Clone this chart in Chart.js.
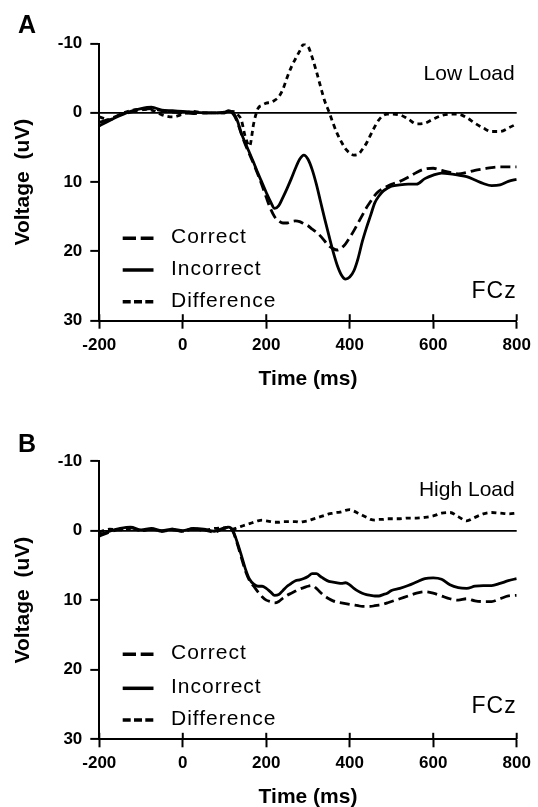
<!DOCTYPE html>
<html lang="en">
<head>
<meta charset="UTF-8" />
<title>FCz - Correct vs Incorrect, Low and High Load</title>
<script src="https://cdn.jsdelivr.net/npm/chart.js"></script>
<style>
  html, body { margin: 0; padding: 0; background: #fff; overflow: hidden; }
  canvas { position: absolute; left: 0; }
</style>
</head>
<body>
<canvas id="chartA" width="538" height="400" style="top:0"></canvas>
<canvas id="chartB" width="538" height="410" style="top:400px"></canvas>

<script>
// time axis (ms), shared by both panels
const times = [-200, -175, -150, -125, -100, -75, -50, -25, 0, 25, 50, 75, 100,
  110, 120, 130, 140, 150, 160, 170, 180, 190, 200, 210, 220, 230, 240, 250, 260, 270, 280, 290, 300,
  310, 320, 330, 340, 350, 360, 370, 380, 390, 400, 410, 420, 430, 440, 450, 460, 470, 480, 490, 500,
  520, 540, 560, 580, 600, 620, 640, 660, 680, 700, 720, 740, 760, 780, 800];
const timeTicks = [-200, 0, 200, 400, 600, 800];
const voltTicks = [-10, 0, 10, 20, 30];

// A - Low Load (uV, negative up)
const correctLow = [1.4, 0.9, 0.3, -0.1, -0.4, -0.6, -0.3, -0.1, 0.0, 0.1, 0.0, 0.0, 0.0,
  -0.2, 0.1, 1.2, 3.0, 4.6, 6.0, 7.4, 8.9, 10.5, 12.2, 13.8, 15.0, 15.6, 15.9, 15.9, 15.7, 15.6, 15.7, 16.0, 16.3,
  16.8, 17.2, 17.8, 18.5, 19.2, 19.6, 19.8, 19.5, 18.9, 18.0, 17.0, 15.9, 14.8, 13.7, 12.8, 11.9, 11.3, 10.9, 10.6, 10.3,
  9.9, 9.3, 8.6, 8.1, 8.0, 8.3, 8.6, 8.8, 8.6, 8.3, 8.1, 7.9, 7.8, 7.8, 7.8];
const incorrectLow = [1.9, 1.1, 0.4, -0.2, -0.6, -0.8, -0.4, -0.3, -0.2, -0.1, 0.0, 0.0, -0.1,
  -0.3, 0.0, 1.0, 2.9, 4.4, 5.8, 7.2, 8.7, 10.1, 11.5, 12.8, 13.8, 13.4, 12.2, 10.9, 9.5, 8.0, 6.7, 6.1, 6.7,
  8.2, 10.3, 12.8, 15.3, 17.7, 20.0, 22.0, 23.4, 24.0, 23.7, 22.8, 21.0, 18.6, 16.6, 14.8, 13.0, 12.0, 11.3, 10.9, 10.6,
  10.4, 10.3, 10.3, 9.5, 9.0, 8.7, 8.8, 9.0, 9.2, 9.7, 10.2, 10.5, 10.4, 9.9, 9.6];
const differenceLow = [0.6, 1.0, 0.2, -0.3, -0.5, -0.4, 0.3, 0.6, 0.2, -0.2, 0.0, 0.0, 0.0,
  -0.1, -0.2, 0.2, 1.0, 3.5, 4.8, 1.5, -0.6, -1.1, -1.4, -1.5, -1.8, -2.3, -3.4, -5.1, -6.6, -7.8, -8.9, -9.9, -9.6,
  -8.0, -6.0, -3.8, -1.7, -0.2, 1.5, 3.0, 4.2, 5.2, 5.8, 6.1, 6.0, 5.3, 4.4, 3.2, 2.0, 1.0, 0.4, 0.2, 0.2,
  0.3, 0.9, 1.6, 1.5, 0.9, 0.4, 0.2, 0.2, 0.7, 1.5, 2.2, 2.7, 2.7, 2.2, 1.6];

// B - High Load
const correctHigh = [0.8, 0.2, -0.2, -0.4, 0.0, -0.2, 0.1, -0.1, 0.1, -0.2, -0.1, 0.2, -0.3,
  -0.4, 0.1, 1.8, 3.8, 5.8, 7.2, 8.0, 8.8, 9.5, 10.0, 10.2, 10.4, 10.2, 9.7, 9.3, 9.0, 8.7, 8.4, 8.2, 8.0,
  7.9, 8.3, 8.9, 9.4, 9.8, 10.1, 10.3, 10.4, 10.5, 10.6, 10.7, 10.8, 10.9, 10.9, 10.9, 10.8, 10.7, 10.6, 10.4, 10.2,
  9.8, 9.4, 9.0, 8.8, 9.0, 9.4, 9.8, 10.0, 9.8, 10.1, 10.2, 10.2, 9.8, 9.4, 9.3];
const incorrectHigh = [0.6, 0.1, -0.3, -0.5, -0.1, -0.3, 0.0, -0.2, 0.0, -0.3, -0.2, 0.1, -0.4,
  -0.5, 0.0, 1.6, 3.5, 5.5, 7.0, 7.7, 8.0, 8.0, 8.3, 8.8, 9.3, 9.2, 8.6, 8.0, 7.6, 7.2, 7.1, 6.9, 6.6,
  6.2, 6.2, 6.6, 7.0, 7.3, 7.4, 7.5, 7.6, 7.5, 7.8, 8.3, 8.7, 9.0, 9.2, 9.3, 9.4, 9.4, 9.2, 9.0, 8.6,
  8.3, 7.9, 7.4, 6.9, 6.8, 7.0, 7.8, 8.2, 8.3, 8.0, 7.9, 7.9, 7.6, 7.2, 6.9];
const differenceHigh = [0.2, -0.2, -0.1, -0.3, 0.0, -0.2, 0.1, -0.2, 0.1, -0.3, 0.0, -0.3, -0.4,
  -0.5, -0.2, -0.4, -0.6, -0.8, -1.0, -1.2, -1.4, -1.5, -1.4, -1.3, -1.2, -1.2, -1.3, -1.3, -1.3, -1.3, -1.2, -1.3, -1.4,
  -1.6, -1.8, -2.0, -2.2, -2.4, -2.5, -2.6, -2.7, -2.9, -3.0, -2.8, -2.5, -2.2, -1.9, -1.6, -1.5, -1.6, -1.6, -1.7, -1.7,
  -1.7, -1.8, -1.8, -1.9, -2.1, -2.5, -2.6, -2.0, -1.4, -1.9, -2.4, -2.6, -2.5, -2.4, -2.5];

const FONT = '"Liberation Sans", Arial, Helvetica, sans-serif';
const pts = vals => vals.map((v, i) => ({ x: times[i], y: v }));

// in-plot legend, labels and the inner half of the x ticks
const erpNotes = {
  id: 'erpNotes',
  afterDraw(chart, args, o) {
    const { ctx, chartArea: a } = chart;
    const xs = chart.scales.x;
    ctx.save();
    ctx.strokeStyle = '#000';
    ctx.fillStyle = '#000';
    ctx.lineWidth = 2;
    xs.ticks.forEach((t, i) => {
      const px = xs.getPixelForTick(i);
      ctx.beginPath();
      ctx.moveTo(px, a.bottom);
      ctx.lineTo(px, a.bottom - 6.5);
      ctx.stroke();
    });

    ctx.textBaseline = 'alphabetic';
    ctx.textAlign = 'left';
    ctx.font = 'bold 25px ' + FONT;
    ctx.fillText(o.letter, 18, o.letterY);

    ctx.textAlign = 'right';
    ctx.font = '21px ' + FONT;
    ctx.fillText(o.condition, a.right - 2, a.top + o.condDy);
    ctx.letterSpacing = '1px';
    ctx.font = '23px ' + FONT;
    ctx.fillText('FCz', a.right, a.bottom - o.siteDy);

    ctx.textAlign = 'left';
    ctx.font = '21px ' + FONT;
    chart.data.datasets.forEach((ds, i) => {
      const base = a.bottom - o.legendDy[i];
      ctx.lineWidth = 3.5;
      ctx.setLineDash(o.sampleDash[i]);
      ctx.beginPath();
      ctx.moveTo(122.7, base - 5);
      ctx.lineTo(153.5, base - 5);
      ctx.stroke();
      ctx.setLineDash([]);
      ctx.fillText(ds.label, 171, base);
    });
    ctx.restore();
  }
};

function makeChart(id, series, p) {
  const tickFont = { family: FONT, size: 17, weight: 'bold' };
  const titleFont = { family: FONT, size: 21, weight: 'bold' };
  return new Chart(document.getElementById(id), {
    type: 'line',
    data: {
      datasets: [
        { label: 'Correct', data: pts(series[0]), borderColor: '#000', borderDash: [10, 5] },
        { label: 'Incorrect', data: pts(series[1]), borderColor: '#000' },
        { label: 'Difference', data: pts(series[2]), borderColor: '#000', borderDash: [5, 4] }
      ]
    },
    options: {
      responsive: false,
      animation: false,
      layout: { padding: { top: p.top, right: 21.3, left: 0, bottom: 0 } },
      elements: {
        point: { radius: 0 },
        line: { borderWidth: 2.8, cubicInterpolationMode: 'monotone', fill: false }
      },
      plugins: {
        legend: { display: false },
        tooltip: { enabled: false },
        colors: { enabled: false },
        erpNotes: p.notes
      },
      scales: {
        x: {
          type: 'linear', min: -200, max: 800,
          afterBuildTicks: s => { s.ticks = timeTicks.map(v => ({ value: v })); },
          afterFit: s => { s.height = p.xHeight; },
          ticks: { color: '#000', font: tickFont, padding: 6, maxRotation: 0, autoSkip: false },
          grid: { drawOnChartArea: false, tickLength: 8, tickColor: '#000', tickWidth: 2 },
          border: { color: '#000', width: 2 },
          title: { display: true, text: 'Time (ms)', color: '#000', font: titleFont, padding: { top: 0, bottom: p.xTitlePad } }
        },
        y: {
          type: 'linear', min: -10, max: 30, reverse: true,
          afterBuildTicks: s => { s.ticks = voltTicks.map(v => ({ value: v })); },
          afterFit: s => { s.width = 99.3; },
          ticks: { color: '#000', font: tickFont, padding: 8 },
          grid: {
            color: c => (c.tick && c.tick.value === 0 ? '#000' : 'rgba(0,0,0,0)'),
            lineWidth: 1.8, tickLength: 9, tickColor: '#000', tickWidth: 2
          },
          border: { color: '#000', width: 2 },
          title: { display: true, text: 'Voltage  (uV)', color: '#000', font: titleFont, padding: { top: 11, bottom: 0 } }
        }
      }
    },
    plugins: [erpNotes]
  });
}

const sampleDash = [[13.3, 4.7], [], [8, 3.3]];

makeChart('chartA', [correctLow, incorrectLow, differenceLow], {
  top: 43.5, xHeight: 79.3, xTitlePad: 8.4,
  notes: { letter: 'A', letterY: 33, condition: 'Low Load', condDy: 36.5, siteDy: 22.4, legendDy: [77.4, 45.7, 14], sampleDash }
});

makeChart('chartB', [correctHigh, incorrectHigh, differenceHigh], {
  top: 61, xHeight: 70.7, xTitlePad: 0,
  notes: { letter: 'B', letterY: 51.7, condition: 'High Load', condDy: 35, siteDy: 26, legendDy: [80, 46, 14.3], sampleDash }
});
</script>
</body>
</html>
